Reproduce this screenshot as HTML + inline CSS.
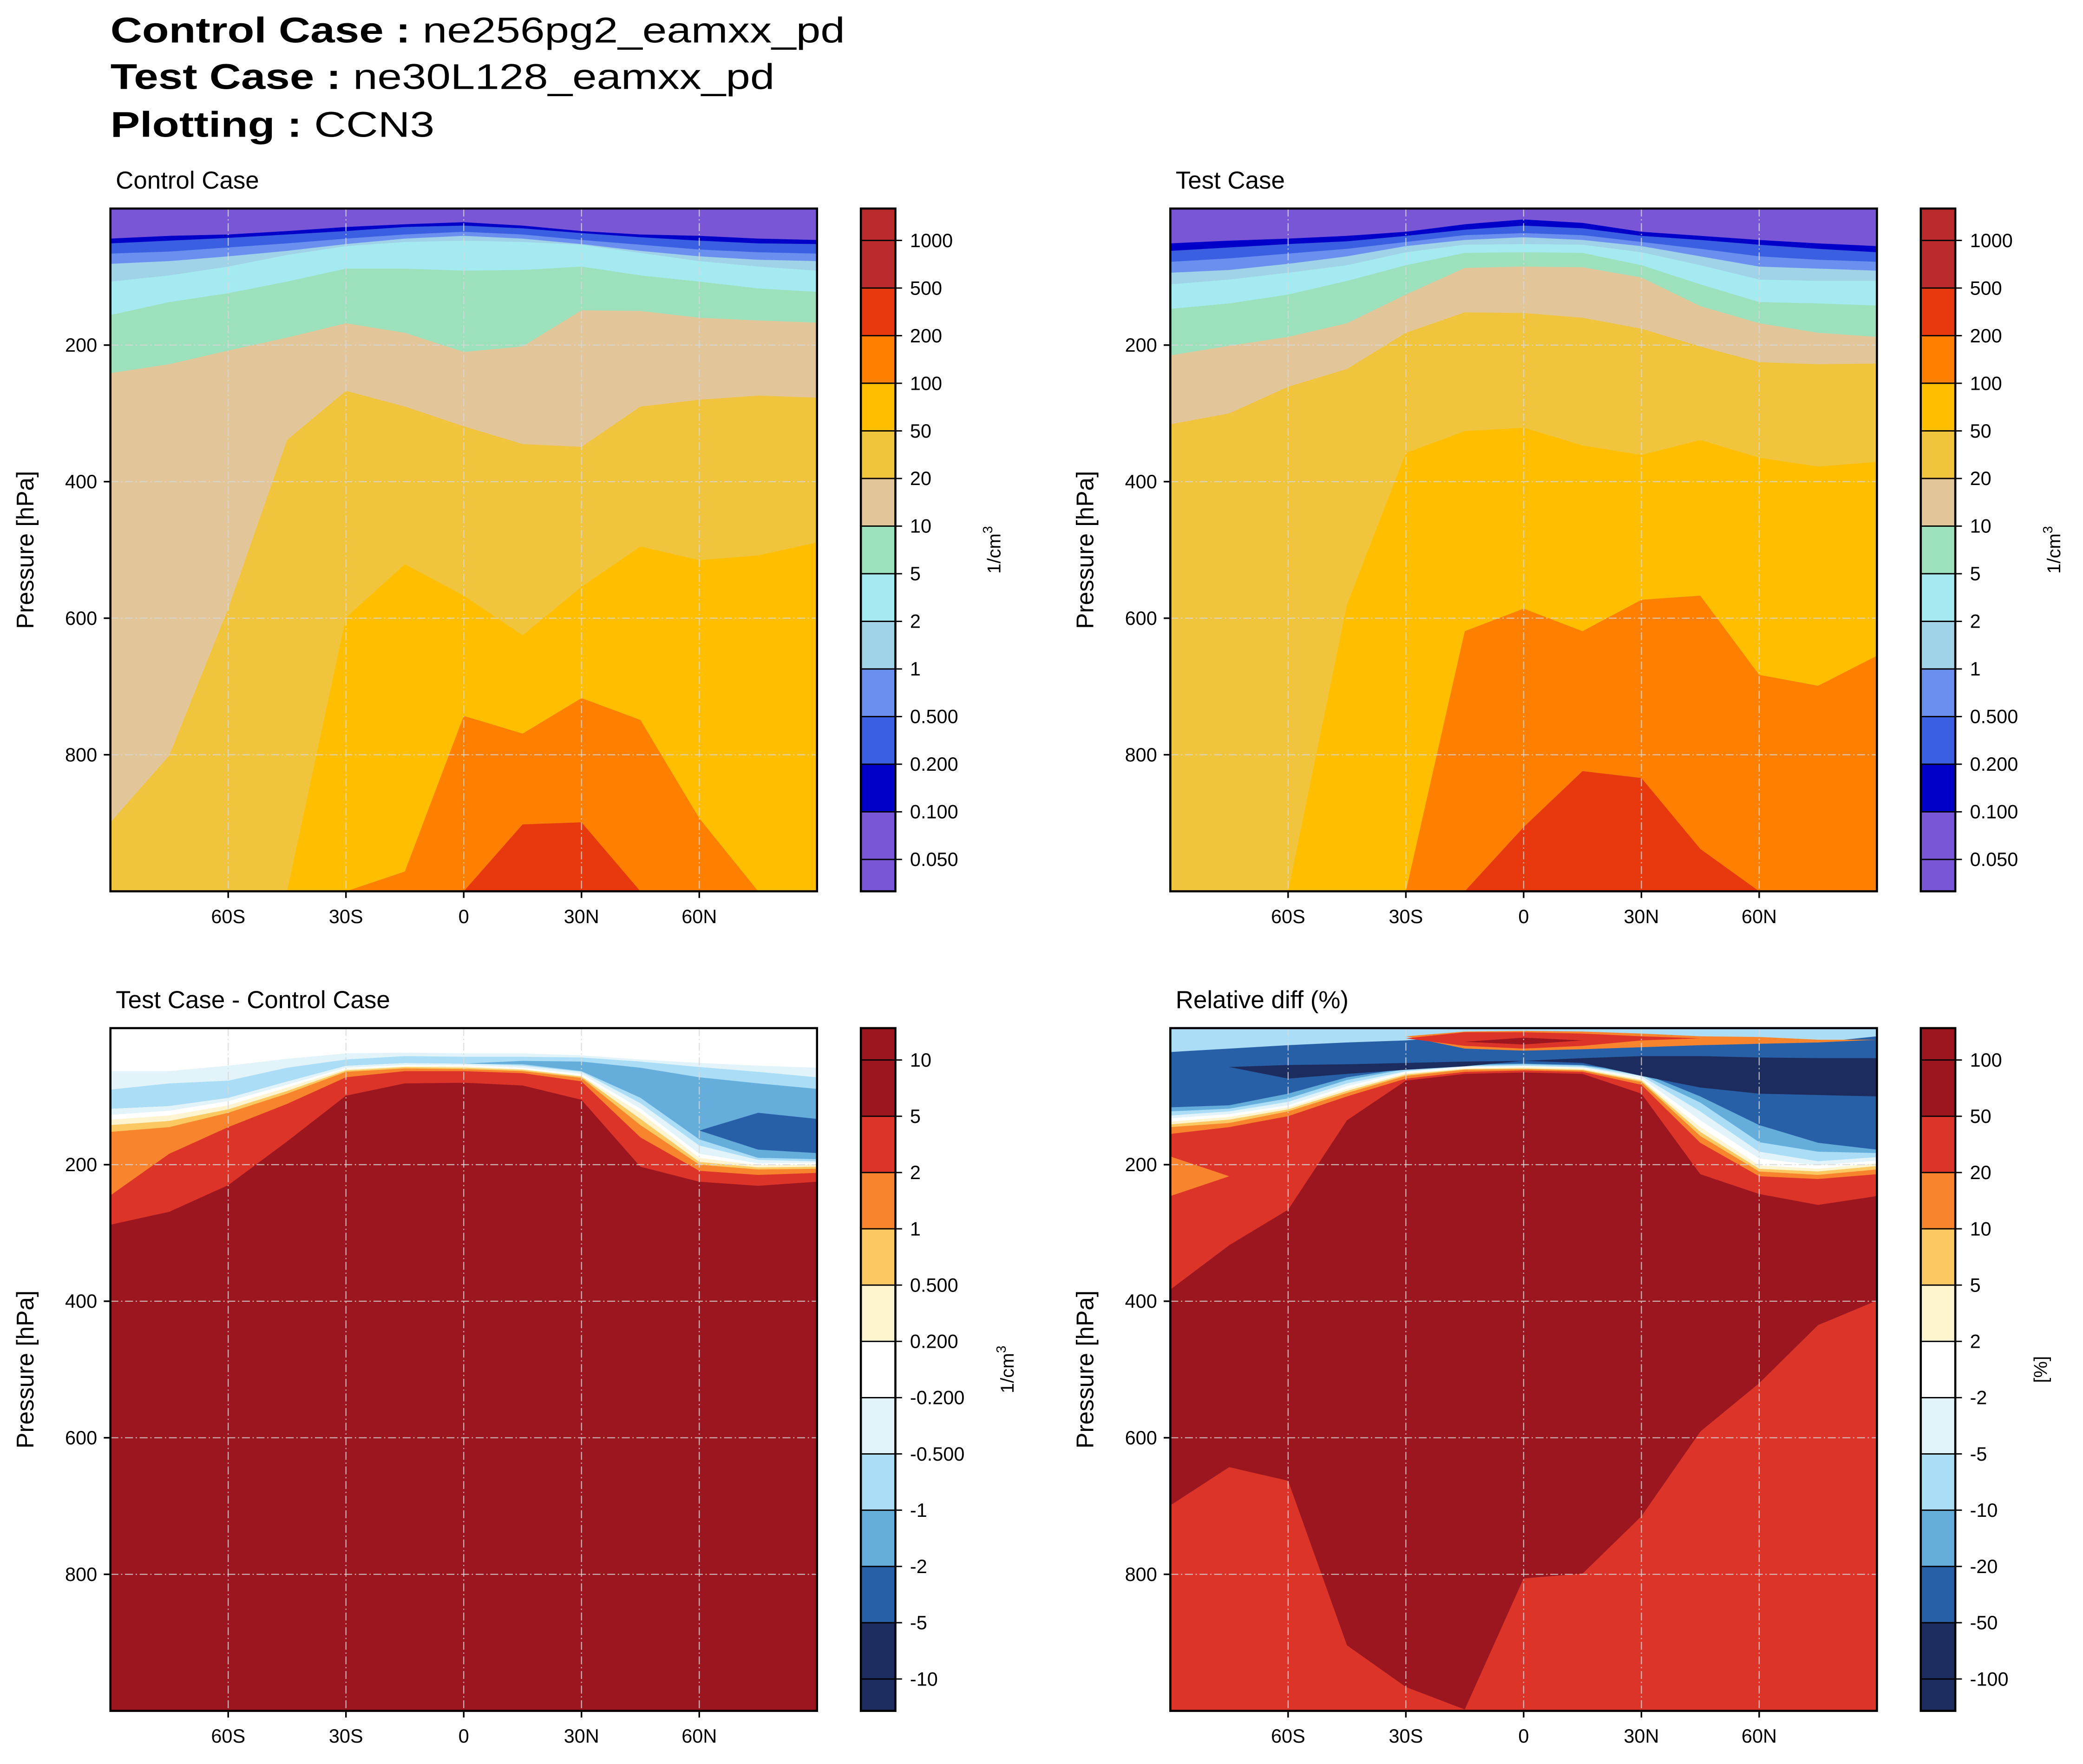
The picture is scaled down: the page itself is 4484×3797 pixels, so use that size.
<!DOCTYPE html>
<html><head><meta charset="utf-8"><title>CCN3 zonal mean</title>
<style>
html,body{margin:0;padding:0;background:#fff;}
svg{display:block;font-family:"Liberation Sans","DejaVu Sans",sans-serif;}
</style></head>
<body>
<svg id="fig" xmlns="http://www.w3.org/2000/svg" width="4484" height="3797" viewBox="0 0 1568 1328">
<rect x="0" y="0" width="1568" height="1328" fill="#fff"/>
<g font-size="27" fill="#000">
<text x="83" y="32" textLength="553" lengthAdjust="spacingAndGlyphs"><tspan font-weight="bold">Control Case :</tspan> ne256pg2_eamxx_pd</text>
<text x="83" y="67" textLength="500" lengthAdjust="spacingAndGlyphs"><tspan font-weight="bold">Test Case :</tspan> ne30L128_eamxx_pd</text>
<text x="83" y="103" textLength="244" lengthAdjust="spacingAndGlyphs"><tspan font-weight="bold">Plotting :</tspan> CCN3</text>
</g>
</svg>
<script>
// ---------- data ----------
const lats = [-90,-75,-60,-45,-30,-15,0,15,30,45,60,75,90];
const latTicks = [-60,-30,0,30,60];
const latTickLabels = ["60S","30S","0","30N","60N"];
const presTicks = [200,400,600,800];
const absLevelLabels = ["1000","500","200","100","50","20","10","5","2","1","0.500","0.200","0.100","0.050"];
const diffLevelLabels = ["10","5","2","1","0.500","0.200","-0.200","-0.500","-1","-2","-5","-10"];
const relLevelLabels = ["100","50","20","10","5","2","-2","-5","-10","-20","-50","-100"];
const absColors = ["#B82A2C","#B82A2C","#E8380E","#FF8000","#FFBF00","#F0C43C","#E2C699","#9DE1BC","#A5E9F1","#A0D2E8","#6B8FEE","#3A5FE0","#0000C8","#7856D6","#7856D6"];
const diffColors = ["#9B161E","#9B161E","#DC3429","#F8852E","#FBC862","#FEF4CF","#FFFFFF","#E2F3FA","#ABDEF6","#65AEDB","#2860A8","#1C2C5E","#1C2C5E"];

const ctl_0p1 = [44,40,38,33,27,23,20,25,33,38,40,44,46];
const ctl_0p2 = [51,47,43,38,33,27,25,29,36,42,47,51,52];
const ctl_0p5 = [66,63,57,51,44,38,34,38,46,53,60,64,66];
const ctl_1 = [81,77,70,62,52,44,40,44,52,62,70,75,77];
const ctl_2 = [107,98,85,68,55,49,47,49,53,65,77,85,91];
const ctl_5 = [156,137,124,107,88,88,91,90,85,98,107,117,122];
const ctl_10 = [241,228,208,189,168,182,210,202,149,150,160,164,167];
const ctl_20 = [899,801,586,339,267,290,319,345,349,290,280,274,277];
const ctl_50 = [1000,1000,1000,1000,599,521,567,625,554,495,515,508,489];
const ctl_100 = [1000,1000,1000,1000,1000,971,743,769,717,749,893,1000,1000];
const ctl_200 = [1000,1000,1000,1000,1000,1000,1000,902,899,1000,1000,1000,1000];

const tst_0p1 = [51,47,44,40,34,23,16,21,34,40,46,51,55];
const tst_0p2 = [62,57,52,48,40,31,25,29,40,46,53,59,64];
const tst_0p5 = [78,73,66,59,49,39,36,39,49,59,70,75,78];
const tst_1 = [94,90,81,70,55,46,42,46,55,70,85,88,91];
const tst_2 = [111,104,94,83,64,53,52,53,64,83,104,106,106];
const tst_5 = [147,139,126,106,83,65,64,65,83,111,137,139,142];
const tst_10 = [215,201,188,168,126,87,85,86,101,143,168,182,188];
const tst_20 = [316,300,261,235,182,152,153,160,176,202,225,228,227];
const tst_50 = [1000,1000,1000,580,358,326,321,347,361,339,365,378,371];
const tst_100 = [1000,1000,1000,1000,1000,619,586,619,573,567,683,699,655];
const tst_200 = [1000,1000,1000,1000,1000,1000,906,824,834,938,1000,1000,1000];

const dif_red = [288,269,230,166,99,81,80,84,105,203,225,231,225];
const dif_orange = [245,184,145,111,72,63,63,66,78,160,209,215,212];
const dif_yellow = [152,145,124,96,64,59,60,63,73,142,200,207,206];
const dif_cream = [142,136,119,92,62,57,58,61,71,133,196,204,203];
const dif_white2 = [134,128,113,87,60,56,56,60,70,124,190,201,200];
const dif_vlblue2 = [127,121,107,83,58,54,54,58,67,118,184,198,197];
const dif_lblue2 = [118,114,102,78,55,51,52,55,64,110,172,193,195];
const dif_mblue = [118,114,102,78,55,51,52,53,63,102,163,190,192];
const dif_lblue1 = [118,114,102,78,55,51,52,48,49,58,72,81,89];
const dif_vlblue1 = [90,81,77,58,46,41,42,42,43,49,57,64,72];
const dif_white1 = [63,63,55,45,37,36,37,37,40,46,51,55,58];
const dif_dblue_top = [150,150,150,150,150,150,150,150,150,150,150,124,133];
const dif_dblue_bot = [150,150,150,150,150,150,150,150,150,150,150,178,183];

const rel_lowred_top = [699,643,663,904,965,998,806,799,715,591,520,435,399];
const rel_red = [383,318,266,135,77,67,65,67,96,214,243,259,246];
const rel_orpatch_top = [188,217,217,217,217,217,217,217,217,217,217,217,217];
const rel_orpatch_bot = [246,217,217,217,217,217,217,217,217,217,217,217,217];
const rel_orange = [155,145,129,100,74,64,62,64,83,168,217,221,214];
const rel_yellow = [145,139,122,95,70,61,60,62,79,158,210,215,207];
const rel_cream = [141,134,119,92,68,60,59,61,77,152,206,210,202];
const rel_white = [137,130,116,89,66,59,57,59,75,145,201,206,198];
const rel_vlblue = [132,126,113,85,64,57,56,58,73,135,191,201,194];
const rel_lblue = [128,122,108,81,63,56,55,57,70,122,181,195,189];
const rel_mblue = [122,118,103,76,60,55,53,55,68,109,167,181,183];
const rel_dblue = [116,113,96,72,59,53,52,54,65,100,142,168,178];
const rel_navy_top = [57,57,54,53,51,49,48,44,41,41,43,44,44];
const rel_navy_bot = [57,57,74,67,61,56,48,51,70,87,96,98,100];
const rel_toplb = [35,30,25,21,18,12,8,12,15,18,21,21,12];
const rel_ortop = [0,0,0,0,12,5,4,5,8,12,13,17,17];
const rel_orbot = [0,0,0,0,12,30,33,31,28,25,23,21,17];
const rel_rdtop = [0,0,0,0,15,6,6,8,12,15,15,15,15];
const rel_rdbot = [0,0,0,0,15,26,30,26,18,15,15,15,15];
const rel_drtop = [20,20,20,20,20,20,14,18,18,18,18,18,18];
const rel_drbot = [20,20,20,20,20,20,24,18,18,18,18,18,18];

// ---------- drawing ----------
const NS = "http://www.w3.org/2000/svg";
const svg = document.getElementById("fig");
function mk(tag, attrs, parent){
  const e = document.createElementNS(NS, tag);
  for (const k in attrs) e.setAttribute(k, attrs[k]);
  (parent||svg).appendChild(e);
  return e;
}
function xS(P, lat){ return P.x0 + (lat+90)/180*P.w; }
function yS(P, p){ return P.y0 + p/1000*P.h; }
function arr(v){ return Array.isArray(v) ? v : lats.map(()=>v); }
function band(P, g, color, top, bot, name){
  const t = arr(top), b = arr(bot);
  let d = "";
  lats.forEach((la,i)=>{ d += (i?"L":"M") + xS(P,la).toFixed(2)+","+yS(P,t[i]).toFixed(2); });
  for (let i=lats.length-1;i>=0;i--) d += "L"+xS(P,lats[i]).toFixed(2)+","+yS(P,b[i]).toFixed(2);
  d += "Z";
  const el = mk("path", {d:d, fill:color, stroke:"none"}, g);
  
  
}

const panels = [
  {id:"control", title:"Control Case", x0:83, y0:157, w:532, h:514, cb:648, labels:absLevelLabels, colors:absColors, unit:"cm"},
  {id:"test", title:"Test Case", x0:881, y0:157, w:532, h:514, cb:1446, labels:absLevelLabels, colors:absColors, unit:"cm"},
  {id:"diff", title:"Test Case - Control Case", x0:83, y0:774, w:532, h:514, cb:648, labels:diffLevelLabels, colors:diffColors, unit:"cm"},
  {id:"reldiff", title:"Relative diff (%)", x0:881, y0:774, w:532, h:514, cb:1446, labels:relLevelLabels, colors:diffColors, unit:"pct"}
];

panels.forEach((P,pi)=>{
  const g = mk("g", {});
  
  
  const cp = mk("clipPath", {id:"clip"+pi}, g);
  mk("rect", {x:P.x0, y:P.y0, width:P.w, height:P.h}, cp);
  const f = mk("g", {"clip-path":"url(#clip"+pi+")"}, g);
  
  

  if (P.id==="control" || P.id==="test"){
    const s = P.id==="control"
      ? [ctl_0p1,ctl_0p2,ctl_0p5,ctl_1,ctl_2,ctl_5,ctl_10,ctl_20,ctl_50,ctl_100,ctl_200]
      : [tst_0p1,tst_0p2,tst_0p5,tst_1,tst_2,tst_5,tst_10,tst_20,tst_50,tst_100,tst_200];
    band(P,f,absColors[13],0,1000,"level-below-0p1");
    const cols = [absColors[12],absColors[11],absColors[10],absColors[9],absColors[8],absColors[7],absColors[6],absColors[5],absColors[4],absColors[3],absColors[2]];
    s.forEach((c,i)=> band(P,f,cols[i],c,1000,"level-band-"+i));
  } else if (P.id==="diff"){
    band(P,f,"#9B161E",0,1000,"diff-background");
    const seq = [[dif_red,"#DC3429"],[dif_orange,"#F8852E"],[dif_yellow,"#FBC862"],[dif_cream,"#FEF4CF"],[dif_white2,"#FFFFFF"],[dif_vlblue2,"#E2F3FA"],[dif_lblue2,"#ABDEF6"],[dif_mblue,"#65AEDB"],[dif_lblue1,"#ABDEF6"],[dif_vlblue1,"#E2F3FA"],[dif_white1,"#FFFFFF"]];
    seq.forEach((s,i)=> band(P,f,s[1],0,s[0],"diff-band-"+i));
    band(P,f,"#2860A8",dif_dblue_top,dif_dblue_bot,"diff-dark-blue-patch");
  } else {
    band(P,f,"#9B161E",0,1000,"rel-background");
    band(P,f,"#DC3429",rel_lowred_top,1000,"rel-lower-red");
    band(P,f,"#DC3429",0,rel_red,"rel-upper-red");
    band(P,f,"#F8852E",rel_orpatch_top,rel_orpatch_bot,"rel-orange-patch");
    const seq = [[rel_orange,"#F8852E"],[rel_yellow,"#FBC862"],[rel_cream,"#FEF4CF"],[rel_white,"#FFFFFF"],[rel_vlblue,"#E2F3FA"],[rel_lblue,"#ABDEF6"],[rel_mblue,"#65AEDB"],[rel_dblue,"#2860A8"]];
    seq.forEach((s,i)=> band(P,f,s[1],0,s[0],"rel-band-"+i));
    band(P,f,"#1C2C5E",rel_navy_top,rel_navy_bot,"rel-navy-band");
    band(P,f,"#ABDEF6",0,rel_toplb,"rel-top-lightblue");
    band(P,f,"#F8852E",rel_ortop,rel_orbot,"rel-top-orange");
    band(P,f,"#DC3429",rel_rdtop,rel_rdbot,"rel-top-red");
    band(P,f,"#9B161E",rel_drtop,rel_drbot,"rel-top-darkred");
  }
  latTicks.forEach(la=>{
    const l = mk("line",{x1:xS(P,la),x2:xS(P,la),y1:P.y0,y2:P.y0+P.h,stroke:"#d8d8d8","stroke-width":"0.8","stroke-dasharray":"6,2,1,2","opacity":"0.8"},g);
    
    
  });
  presTicks.forEach(p=>{
    const l = mk("line",{x1:P.x0,x2:P.x0+P.w,y1:yS(P,p),y2:yS(P,p),stroke:"#d8d8d8","stroke-width":"0.8","stroke-dasharray":"6,2,1,2","opacity":"0.8"},g);
    
    
  });
  const fr = mk("rect",{x:P.x0,y:P.y0,width:P.w,height:P.h,fill:"none",stroke:"#000","stroke-width":"1.6"},g);
  
  
  latTicks.forEach((la,i)=>{
    mk("line",{x1:xS(P,la),x2:xS(P,la),y1:P.y0+P.h,y2:P.y0+P.h+5,stroke:"#000","stroke-width":"1.2"},g);
    const t = mk("text",{x:xS(P,la),y:P.y0+P.h+24,"text-anchor":"middle","font-size":"14.5"},g);
    t.textContent = latTickLabels[i];
    
    
  });
  presTicks.forEach(p=>{
    mk("line",{x1:P.x0-5,x2:P.x0,y1:yS(P,p),y2:yS(P,p),stroke:"#000","stroke-width":"1.2"},g);
    const t = mk("text",{x:P.x0-10,y:yS(P,p)+5,"text-anchor":"end","font-size":"14.5"},g);
    t.textContent = String(p);
    
    
  });
  const yl = mk("text",{x:0,y:0,"text-anchor":"middle","font-size":"18",transform:"translate("+(P.x0-58)+","+(P.y0+P.h/2)+") rotate(-90)"},g);
  yl.textContent = "Pressure [hPa]";
  
  
  const tt = mk("text",{x:P.x0+4,y:P.y0-15,"font-size":"18.5"},g);
  tt.textContent = P.title;
  
  

  const cb = mk("g",{},g);
  
  
  const ext = 24, n = P.labels.length;
  const cell = (P.h - 2*ext)/(n-1);
  const edges = [P.y0];
  for (let i=0;i<n;i++) edges.push(P.y0+ext+i*cell);
  edges.push(P.y0+P.h);
  for (let i=0;i<edges.length-1;i++){
    const r = mk("rect",{x:P.cb,y:edges[i],width:26,height:edges[i+1]-edges[i],fill:P.colors[i]},cb);
    
    
  }
  P.labels.forEach((lab,i)=>{
    const y = P.y0+ext+i*cell;
    mk("line",{x1:P.cb,x2:P.cb+26,y1:y,y2:y,stroke:"#000","stroke-width":"1"},cb);
    mk("line",{x1:P.cb+26,x2:P.cb+31,y1:y,y2:y,stroke:"#000","stroke-width":"1"},cb);
    const t = mk("text",{x:P.cb+37,y:y+5,"font-size":"14.5"},cb);
    t.textContent = lab;
    
    
  });
  mk("rect",{x:P.cb,y:P.y0,width:26,height:P.h,fill:"none",stroke:"#000","stroke-width":"1.6"},cb);
  const lx = P.cb + (P.id==="diff" ? 115 : (P.id==="reldiff" ? 95 : 105));
  const ul = mk("text",{x:0,y:0,"text-anchor":"middle","font-size":"14",transform:"translate("+lx+","+(P.y0+P.h/2)+") rotate(-90)"},cb);
  if (P.unit==="cm"){ ul.innerHTML = '1/cm<tspan dy="-6" font-size="10">3</tspan>'; }
  else { ul.textContent = "[%]"; }
  
  
});
</script>
</body></html>
